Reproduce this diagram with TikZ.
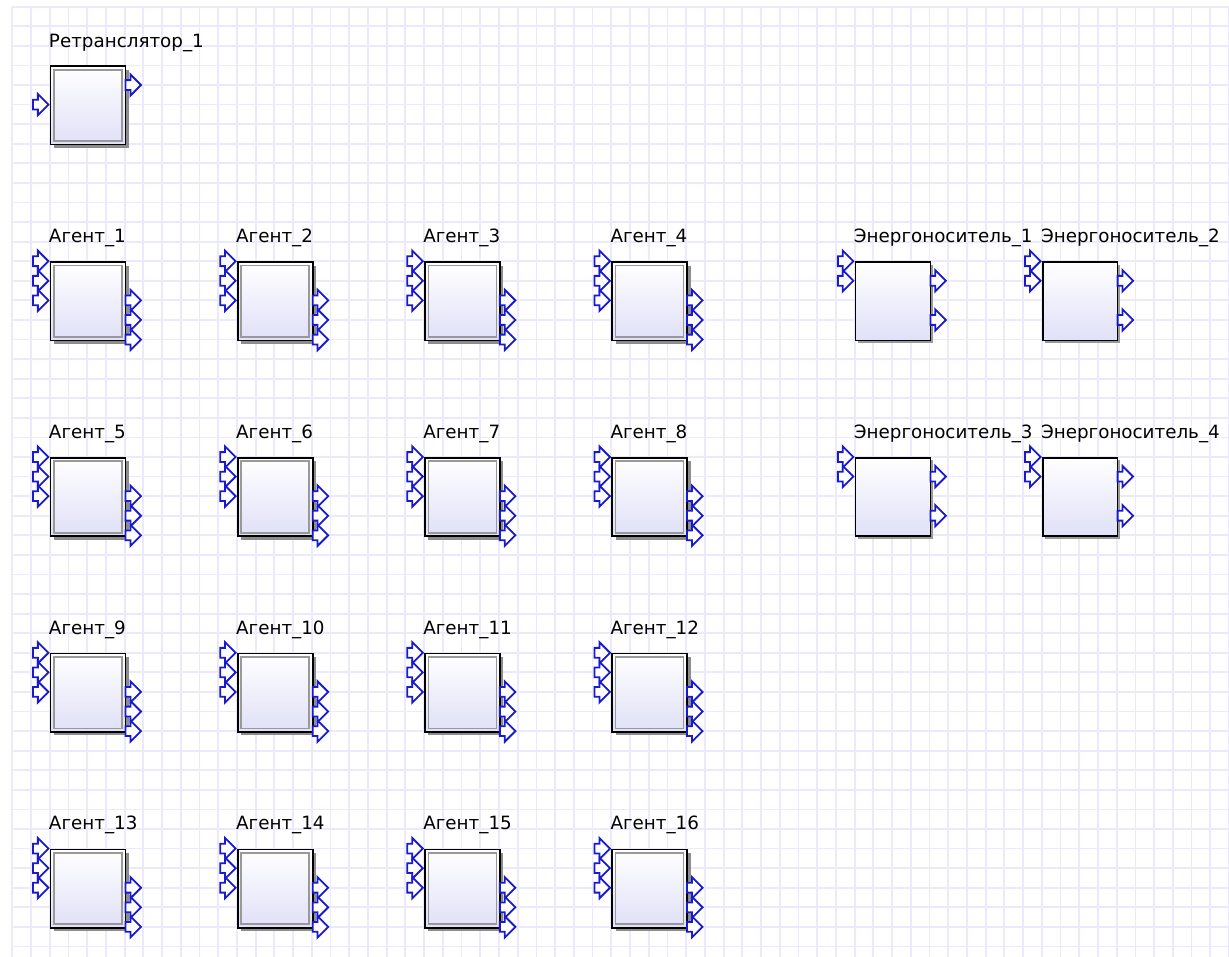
\documentclass[tikz,border=0pt]{standalone}
\usepackage{fontspec}
\setmainfont{DejaVu Sans}
\usetikzlibrary{shapes.arrows,shadows}

\definecolor{gridline}{RGB}{234,234,252}
\definecolor{portblue}{RGB}{25,25,205}
\definecolor{blockbot}{RGB}{224,224,248}

\tikzset{
  block/.style={draw=black, line width=1.7pt, minimum width=74.9pt, minimum height=78.3pt,
    inner sep=0pt, anchor=north west, top color=white, bottom color=blockbot},
  plainblock/.style={block, drop shadow={shadow xshift=2.5pt, shadow yshift=-2.5pt, fill=black!40, opacity=1}},
  framedblock/.style={block, drop shadow={shadow xshift=3.5pt, shadow yshift=-3.5pt, fill=black!45, opacity=1},
    path picture={\draw[black!40, line width=1.7pt]
      ([shift={(3.4pt,-3.4pt)}]path picture bounding box.north west) rectangle
      ([shift={(-3.4pt,3.4pt)}]path picture bounding box.south east);}},
  port/.style={single arrow, draw=portblue, fill=white, line width=1.8pt, inner sep=4pt,
    single arrow head extend=5.7pt, single arrow head indent=0pt, single arrow tip angle=90,
    minimum height=15.5pt},
  caption/.style={anchor=base west, inner sep=0pt, font=\fontsize{18.3}{20}\selectfont}
}

\begin{document}
\begin{tikzpicture}[x=18.72pt, y=-19.58pt]
    \useasboundingbox (-0.657,-0.342) rectangle (65,48.53);

    % Background grid
    \foreach \i in {0,...,65}
        \draw[gridline, line width=1.8pt] (\i,0) -- (\i,48.53);
    \foreach \j in {0,...,48}
        \draw[gridline, line width=1.8pt] (0,\j) -- (65,\j);

    % Repeater
    \node[caption] (retr1lbl) at (1.95,2.1) {Ретранслятор\_1};
    \node[framedblock] (retr1) at (2,3) {};
    \node[port, anchor=tip] (retr1in) at (2,5) {};
    \node[port, anchor=tail] (retr1out) at (6,4) {};

    % Agents, 4 x 4
    \foreach \n in {1,...,16} {
        \pgfmathtruncatemacro{\x}{2+10*mod(\n-1,4)}
        \pgfmathtruncatemacro{\y}{13+10*int((\n-1)/4)}
        \node[caption] (agent\n lbl) at (\x-0.05,\y-0.95) {Агент\_\n};
        \node[framedblock] (agent\n) at (\x,\y) {};
        \foreach \k in {0,1,2} {
            \node[port, anchor=tip] (agent\n in\k) at (\x,\y+\k) {};
            \node[port, anchor=tail] (agent\n out\k) at (\x+4,\y+2+\k) {};
        }
    }

    % Energy carriers, 2 x 2
    \foreach \n in {1,...,4} {
        \pgfmathtruncatemacro{\x}{45+10*mod(\n-1,2)}
        \pgfmathtruncatemacro{\y}{13+10*int((\n-1)/2)}
        \node[caption] (energy\n lbl) at (\x-0.05,\y-0.95) {Энергоноситель\_\n};
        \node[plainblock] (energy\n) at (\x,\y) {};
        \node[port, anchor=tip] (energy\n in0) at (\x,\y) {};
        \node[port, anchor=tip] (energy\n in1) at (\x,\y+1) {};
        \node[port, anchor=tail] (energy\n out0) at (\x+4,\y+1) {};
        \node[port, anchor=tail] (energy\n out1) at (\x+4,\y+3) {};
    }
\end{tikzpicture}
\end{document}
